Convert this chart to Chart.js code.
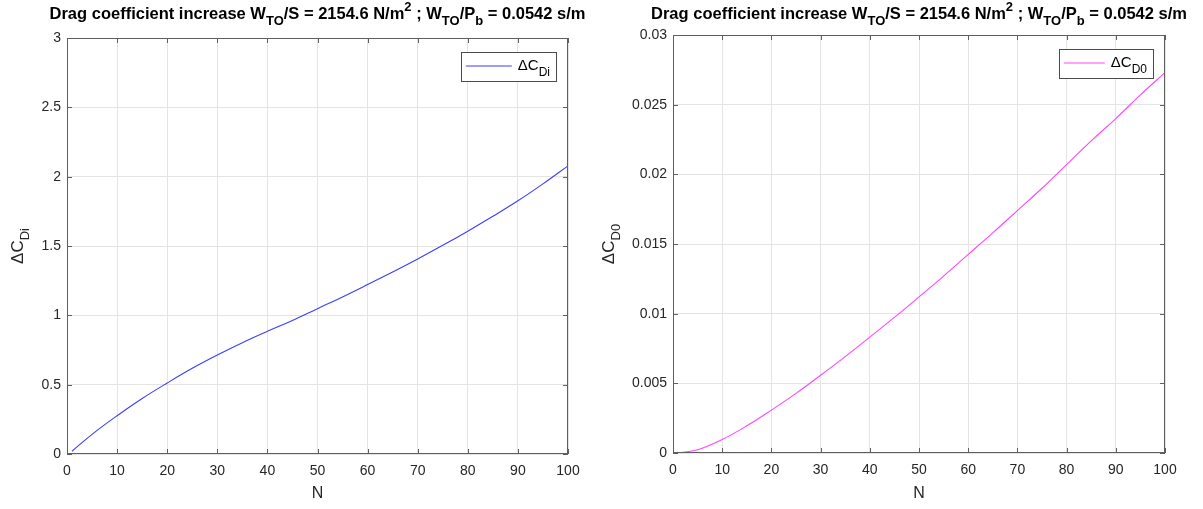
<!DOCTYPE html>
<html>
<head>
<meta charset="utf-8">
<script src="https://cdn.jsdelivr.net/npm/chart.js@4/dist/chart.umd.min.js"></script>
<style>
html, body { margin: 0; padding: 0; background: #fff; }
#wrap { position: relative; width: 1203px; height: 509px; }
canvas { position: absolute; top: 0; }
</style>
</head>
<body>
<div id="wrap">
  <canvas id="chartDi" width="600" height="509" style="left:0"></canvas>
  <canvas id="chartD0" width="603" height="509" style="left:600px"></canvas>
</div>
<script>
// N values
var nVals = [1, 5, 10, 15, 20, 25, 30, 35, 40, 45, 50, 55, 60, 65, 70, 75, 80, 85, 90, 95, 100]
// induced drag coefficient increase
var dCDi = [0.02, 0.142, 0.276, 0.40, 0.512, 0.618, 0.714, 0.803, 0.885, 0.963, 1.048,
            1.133, 1.222, 1.313, 1.407, 1.505, 1.607, 1.714, 1.826, 1.948, 2.078]
// zero-lift drag coefficient increase
var dCD0 = [0.00001, 0.00024, 0.00097, 0.00195, 0.00308, 0.00428, 0.00558, 0.00692, 0.00832, 0.00973, 0.0112,
            0.0127, 0.01425, 0.0158, 0.0174, 0.0190, 0.0207, 0.0224, 0.0240, 0.0257, 0.0273]

// text pieces: 0 = normal, -1 = subscript, 1 = superscript
var titleParts = [['Drag coefficient increase W', 0], ['TO', -1], ['/S = 2154.6 N/m', 0], ['2', 1],
                  [' ; W', 0], ['TO', -1], ['/P', 0], ['b', -1], [' = 0.0542 s/m', 0]]
var labelDi = [['\u0394C', 0], ['Di', -1]]
var labelD0 = [['\u0394C', 0], ['D0', -1]]
var xLabel = 'N'

var FONT = '"Liberation Sans", Arial, Helvetica, sans-serif'

function setFont(ctx, size, bold) {
  ctx.font = (bold ? 'bold ' : '') + size + 'px ' + FONT
}

function partSize(size, kind) {
  return kind == 0 ? size : Math.round(size * 0.78)
}

function richWidth(ctx, parts, size, bold) {
  var w = 0
  parts.forEach(function (p) {
    setFont(ctx, partSize(size, p[1]), bold)
    w += ctx.measureText(p[0]).width
  })
  return w
}

// draws parts starting at x, with text middle at y
function drawRich(ctx, parts, x, y, size, bold) {
  ctx.textBaseline = 'middle'
  ctx.textAlign = 'left'
  parts.forEach(function (p) {
    var s = partSize(size, p[1])
    setFont(ctx, s, bold)
    var dy = p[1] == -1 ? size * 0.45 : (p[1] == 1 ? -size * 0.42 : 0)
    ctx.fillText(p[0], x, y + dy)
    x += ctx.measureText(p[0]).width
  })
}

var matlabLook = {
  id: 'matlabLook',
  afterDraw: function (chart, args, o) {
    var ctx = chart.ctx, a = chart.chartArea
    var xs = chart.scales.x, ys = chart.scales.y
    var L = Math.round(a.left), T = Math.round(a.top), R = Math.round(a.right), B = Math.round(a.bottom)
    ctx.save()

    // axes box + inward ticks
    ctx.strokeStyle = '#5f5f5f'
    ctx.lineWidth = 1
    ctx.strokeRect(L + 0.5, T + 0.5, R - L - 1, B - T - 1)
    ctx.beginPath()
    xs.ticks.forEach(function (t) {
      var px = Math.round(xs.getPixelForValue(t.value)) + 0.5
      ctx.moveTo(px, B); ctx.lineTo(px, B - 5)
      ctx.moveTo(px, T); ctx.lineTo(px, T + 5)
    })
    ys.ticks.forEach(function (t) {
      var py = Math.round(ys.getPixelForValue(t.value)) + 0.5
      ctx.moveTo(L, py); ctx.lineTo(L + 5, py)
      ctx.moveTo(R, py); ctx.lineTo(R - 5, py)
    })
    ctx.stroke()

    // title
    ctx.fillStyle = '#000'
    var tw = richWidth(ctx, titleParts, 16.5, true)
    drawRich(ctx, titleParts, (L + R) / 2 - tw / 2, 14, 16.5, true)

    // x axis title
    ctx.fillStyle = '#262626'
    setFont(ctx, 16, false)
    ctx.textAlign = 'center'
    ctx.textBaseline = 'middle'
    ctx.fillText(xLabel, (L + R) / 2, 494)

    // y axis title
    var yw = richWidth(ctx, o.yParts, 17, false)
    ctx.save()
    ctx.translate(o.yTitleX, (T + B) / 2)
    ctx.rotate(-Math.PI / 2)
    drawRich(ctx, o.yParts, -yw / 2, 0, 17, false)
    ctx.restore()

    // legend
    var lw = richWidth(ctx, o.yParts, 15, false)
    var bw = o.lineLen + 12 + lw + 5
    var bx = R - 12 - bw, by = T + 14, bh = 29
    ctx.fillStyle = '#fff'
    ctx.fillRect(bx, by, bw, bh)
    ctx.strokeStyle = '#4a4a4a'
    ctx.strokeRect(Math.round(bx) + 0.5, by + 0.5, Math.round(bw), bh)
    ctx.strokeStyle = o.color
    ctx.lineWidth = 1.2
    ctx.beginPath()
    ctx.moveTo(bx + 5, by + 14)
    ctx.lineTo(bx + 5 + o.lineLen, by + 14)
    ctx.stroke()
    ctx.fillStyle = '#000'
    drawRich(ctx, o.yParts, bx + o.lineLen + 11, by + 13.5, 15, false)

    ctx.restore()
  }
}

function fmt(v) {
  return String(+(+v).toFixed(4))
}

function makeChart(id, ys, color, yMax, yStep, pad, yWidth, xHeight, yParts, yTitleX, lineLen) {
  var pts = nVals.map(function (n, i) { return { x: n, y: ys[i] } })
  return new Chart(document.getElementById(id), {
    type: 'line',
    data: {
      datasets: [{
        data: pts,
        borderColor: color,
        borderWidth: 1.1,
        pointRadius: 0,
        tension: 0.4,
        fill: false
      }]
    },
    options: {
      responsive: false,
      animation: false,
      devicePixelRatio: 1,
      layout: { padding: pad },
      plugins: {
        legend: { display: false },
        title: { display: false },
        tooltip: { enabled: false },
        matlabLook: { yParts: yParts, yTitleX: yTitleX, lineLen: lineLen, color: color }
      },
      scales: {
        x: {
          type: 'linear',
          min: 0, max: 100,
          ticks: { stepSize: 10, padding: 9, color: '#262626', font: { family: FONT, size: 14 }, maxRotation: 0 },
          grid: { color: '#e4e4e4', drawTicks: false },
          border: { display: false },
          afterFit: function (s) { s.height = xHeight }
        },
        y: {
          min: 0, max: yMax,
          ticks: { stepSize: yStep, padding: 6, color: '#262626', font: { family: FONT, size: 14 },
                   callback: function (v) { return fmt(v) } },
          grid: { color: '#e4e4e4', drawTicks: false },
          border: { display: false },
          afterFit: function (s) { s.width = yWidth }
        }
      }
    },
    plugins: [matlabLook]
  })
}

makeChart('chartDi', dCDi, '#3d3dff', 3, 0.5, { top: 38, right: 32, left: 0, bottom: 0 }, 67, 55, labelDi, 18, 46)
makeChart('chartD0', dCD0, '#ff44ff', 0.03, 0.005, { top: 35, right: 38, left: 0, bottom: 0 }, 73, 56, labelD0, 9, 41)
</script>
</body>
</html>
